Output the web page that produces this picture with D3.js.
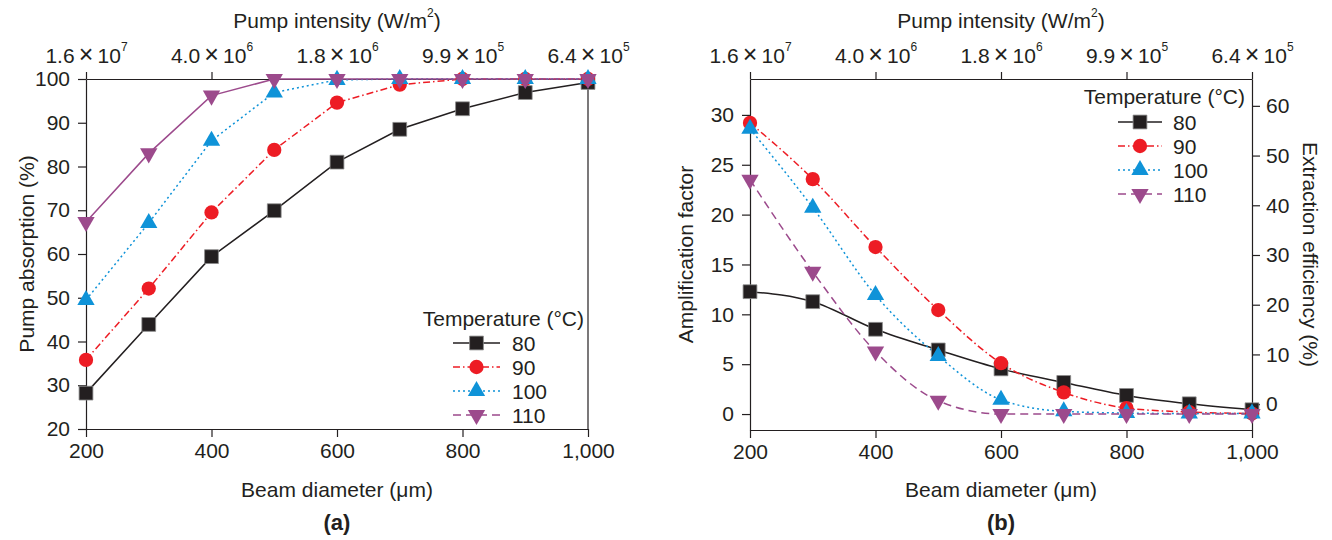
<!DOCTYPE html>
<html>
<head>
<meta charset="utf-8">
<script src="https://cdn.jsdelivr.net/npm/d3@7"></script>
<style>
  body { margin: 0; background: #fff; }
  svg { font-family: "Liberation Sans", Arial, sans-serif; }
  .domain, .tick line { stroke: #231f20; stroke-width: 1.2; }
  .tick text { font-size: 21px; fill: #231f20; }
</style>
</head>
<body>
<div id="chart"></div>
<script>
// beam diameter (um), shared by both panels
const beamDiameter = [200, 300, 400, 500, 600, 700, 800, 900, 1000];
const temperatures = ["80", "90", "100", "110"];

// (a) pump absorption (%)
const absorption80  = [28.2, 43.9, 59.4, 69.9, 81.0, 88.5, 93.2, 96.9, 99.2];
const absorption90  = [35.8, 52.1, 69.5, 83.8, 94.6, 98.7, 100, 100, 100];
const absorption100 = [49.5, 67.1, 85.9, 96.9, 99.8, 100, 100, 100, 100];
const absorption110 = [67.3, 83.0, 96.2, 100, 100, 100, 100, 100, 100];

// (b) amplification factor
const amplification80  = [12.27, 11.27, 8.5, 6.43, 4.53, 3.17, 1.87, 1.03, 0.43];
const amplification90  = [29.2, 23.56, 16.75, 10.43, 5.1, 2.17, 0.6, 0.2, 0.05];
const amplification100 = [28.6, 20.7, 11.93, 5.83, 1.43, 0.27, 0.1, 0.05, 0.05];
const amplification110 = [23.5, 14.27, 6.27, 1.33, 0, 0, 0, 0, 0];

// tick values / labels
const bottomTicks = [200, 400, 600, 800, 1000];
const topMantissa = ["1.6", "4.0", "1.8", "9.9", "6.4"];
const topExponent = ["7", "6", "6", "5", "5"];
const absorptionTicks = [20, 30, 40, 50, 60, 70, 80, 90, 100];
const amplificationTicks = [0, 5, 10, 15, 20, 25, 30];
const extractionTicks = [0, 10, 20, 30, 40, 50, 60];

const styles = {
  "80":  { color: "#231f20", dash: null,          marker: d3.symbolSquare,   size: 190 },
  "90":  { color: "#ed1c24", dash: "7,3,1.5,3",   marker: d3.symbolCircle,   size: 160 },
  "100": { color: "#0f93d8", dash: "2,3",         marker: d3.symbolTriangle, size: 130 },
  "110": { color: "#9c4a8c", dash: "8,5",         marker: d3.symbolTriangle, size: 130, flip: true }
};

const svg = d3.select("#chart").append("svg")
  .attr("width", 1332)
  .attr("height", 540);

function drawPanel(p) {
  const g = svg.append("g");
  const x = d3.scaleLinear().domain([200, 1000]).range([p.left, p.left + p.width]);
  const y = d3.scaleLinear().domain(p.yDomain).range([p.top + p.height, p.top]);

  // bottom axis
  g.append("g")
    .attr("transform", "translate(0," + (p.top + p.height) + ")")
    .call(d3.axisBottom(x).tickValues(bottomTicks).tickSizeInner(8).tickSizeOuter(0).tickPadding(6)
      .tickFormat(d3.format(",")));

  // top axis with 10^n labels
  const topAxis = g.append("g")
    .attr("transform", "translate(0," + p.top + ")")
    .call(d3.axisTop(x).tickValues(bottomTicks).tickSizeInner(7).tickSizeOuter(0).tickFormat(""));
  topAxis.selectAll(".tick").each(function (d, i) {
    const t = d3.select(this).append("text")
      .attr("y", -16)
      .attr("text-anchor", "middle")
      .style("font-size", "21px")
      .attr("fill", "#231f20");
    t.append("tspan").text(topMantissa[i] + "\u2009");
    t.append("tspan").style("font-size", "25px").text("\u00d7");
    t.append("tspan").text("\u200910");
    t.append("tspan").attr("dy", -12).style("font-size", "12px").text(topExponent[i]);
  });

  // left axis
  g.append("g")
    .attr("transform", "translate(" + p.left + ",0)")
    .call(d3.axisLeft(y).tickValues(p.yTicks).tickSizeInner(8).tickSizeOuter(0).tickPadding(8));

  // right border / axis
  if (p.rightDomain) {
    const y2 = d3.scaleLinear().domain(p.rightDomain).range([p.top + p.height, p.top]);
    g.append("g")
      .attr("transform", "translate(" + (p.left + p.width) + ",0)")
      .call(d3.axisRight(y2).tickValues(extractionTicks).tickSizeInner(8).tickSizeOuter(0).tickPadding(6));
  } else {
    g.append("line")
      .attr("x1", p.left + p.width).attr("x2", p.left + p.width)
      .attr("y1", p.top).attr("y2", p.top + p.height)
      .attr("stroke", "#231f20").attr("stroke-width", 1.2);
  }

  // series
  temperatures.forEach((t, k) => {
    const s = styles[t];
    const vals = p.series[k];
    const pts = beamDiameter.map((d, i) => [x(d), y(vals[i])]);
    const dash = (p.solid110 && t === "110") ? null : s.dash;
    g.append("path")
      .attr("d", d3.line().curve(p.curve)(pts))
      .attr("fill", "none")
      .attr("stroke", s.color)
      .attr("stroke-width", 1.5)
      .attr("stroke-dasharray", dash);
  });
  temperatures.forEach((t, k) => {
    const s = styles[t];
    const vals = p.series[k];
    g.selectAll(null)
      .data(beamDiameter.map((d, i) => [x(d), y(vals[i])]))
      .enter().append("path")
      .attr("d", d3.symbol().type(s.marker).size(s.size))
      .attr("transform", d => "translate(" + d[0] + "," + d[1] + ")" + (s.flip ? " rotate(180)" : ""))
      .attr("fill", s.color)
      .attr("stroke", t === "80" ? "#8a8a8a" : "none")
      .attr("stroke-width", 0.8);
  });

  // legend
  const lg = p.legend;
  g.append("text")
    .attr("x", lg.titleX).attr("y", lg.titleY)
    .attr("text-anchor", "end")
    .style("font-size", "21px").attr("fill", "#231f20")
    .text("Temperature (\u00b0C)");
  temperatures.forEach((t, k) => {
    const s = styles[t];
    const ry = lg.y0 + k * lg.dy;
    g.append("line")
      .attr("x1", lg.x1).attr("x2", lg.x2).attr("y1", ry).attr("y2", ry)
      .attr("stroke", s.color).attr("stroke-width", 1.5)
      .attr("stroke-dasharray", s.dash);
    g.append("path")
      .attr("d", d3.symbol().type(s.marker).size(s.size))
      .attr("transform", "translate(" + ((lg.x1 + lg.x2) / 2) + "," + ry + ")" + (s.flip ? " rotate(180)" : ""))
      .attr("fill", s.color)
      .attr("stroke", t === "80" ? "#8a8a8a" : "none")
      .attr("stroke-width", 0.8);
    g.append("text")
      .attr("x", lg.textX).attr("y", ry + 7.5)
      .style("font-size", "21px").attr("fill", "#231f20")
      .text(t);
  });

  // titles
  const cx = p.left + p.width / 2;
  const tt = g.append("text")
    .attr("x", cx).attr("y", 28)
    .attr("text-anchor", "middle")
    .style("font-size", "21px").attr("fill", "#231f20");
  tt.append("tspan").text("Pump intensity (W/m");
  tt.append("tspan").attr("dy", -11).style("font-size", "12px").text("2");
  tt.append("tspan").attr("dy", 11).text(")");

  g.append("text")
    .attr("x", cx).attr("y", 497)
    .attr("text-anchor", "middle")
    .style("font-size", "21px").attr("fill", "#231f20")
    .text("Beam diameter (\u03bcm)");

  g.append("text")
    .attr("x", cx).attr("y", 530)
    .attr("text-anchor", "middle")
    .style("font-size", "22px").style("font-weight", "bold").attr("fill", "#231f20")
    .text(p.label);

  g.append("text")
    .attr("transform", "translate(" + p.yTitleX + "," + (p.top + p.height / 2) + ") rotate(-90)")
    .attr("text-anchor", "middle")
    .style("font-size", "21px").attr("fill", "#231f20")
    .text(p.yTitle);

  if (p.rightTitle) {
    g.append("text")
      .attr("transform", "translate(" + p.rightTitleX + "," + (p.top + p.height / 2) + ") rotate(90)")
      .attr("text-anchor", "middle")
      .style("font-size", "21px").attr("fill", "#231f20")
      .text(p.rightTitle);
  }
}

drawPanel({
  left: 86, top: 79, width: 502, height: 350,
  yDomain: [20, 100], yTicks: absorptionTicks,
  series: [absorption80, absorption90, absorption100, absorption110],
  curve: d3.curveLinear, solid110: true,
  legend: { titleX: 584, titleY: 326, x1: 453, x2: 500, textX: 512, y0: 343, dy: 24 },
  label: "(a)", yTitle: "Pump absorption (%)", yTitleX: 34
});

drawPanel({
  left: 750, top: 79, width: 502, height: 351,
  yDomain: [-1.6, 33.6], yTicks: amplificationTicks,
  rightDomain: [-5.2, 65.4], rightTitle: "Extraction efficiency (%)", rightTitleX: 1303,
  series: [amplification80, amplification90, amplification100, amplification110],
  curve: d3.curveMonotoneX,
  legend: { titleX: 1245, titleY: 104, x1: 1118, x2: 1162, textX: 1173, y0: 122, dy: 24 },
  label: "(b)", yTitle: "Amplification factor", yTitleX: 693
});
</script>
</body>
</html>
